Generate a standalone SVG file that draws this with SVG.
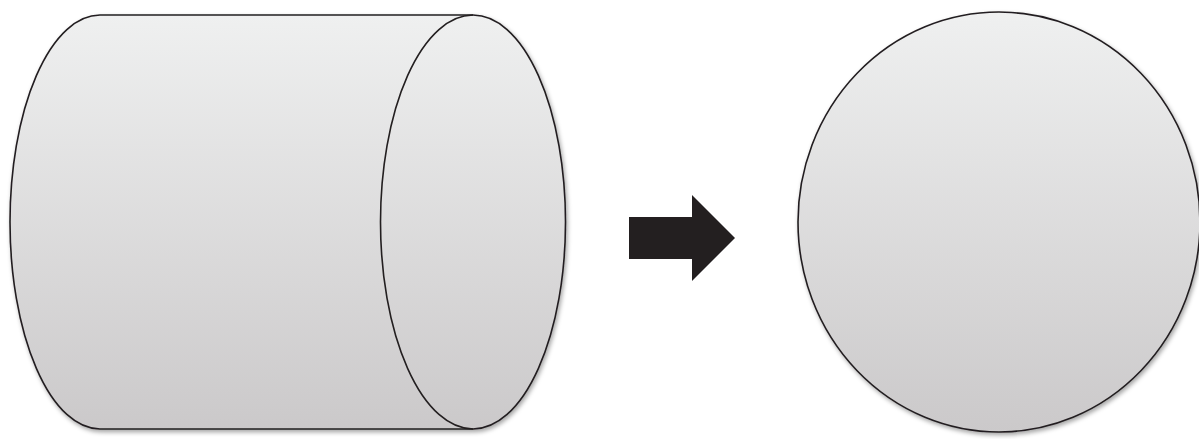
<svg xmlns="http://www.w3.org/2000/svg" width="1199" height="439" viewBox="0 0 1199 439">
<defs>
<linearGradient id="g" x1="0" y1="0" x2="0" y2="1">
<stop offset="0" stop-color="#eff0f0"/>
<stop offset="1" stop-color="#cbc9ca"/>
</linearGradient>
<filter id="sh" x="-10%" y="-10%" width="120%" height="120%">
<feDropShadow dx="1.5" dy="2.5" stdDeviation="2" flood-color="#000" flood-opacity="0.35"/>
</filter>
<style>
.shape{fill:url(#g);stroke:#231f20;stroke-width:1.6;filter:url(#sh)}
.line{fill:none;stroke:#231f20;stroke-width:1.6}
.arrow{fill:#231f20;stroke:none}
</style>
</defs>
<rect width="1199" height="439" fill="#ffffff"/>
<g id="cylinder">
<path class="shape" d="M100,15 L473,15 A92.5,207 0 0 1 473,429 L100,429 A90,207 0 0 1 100,15 Z"/>
<path class="line" d="M473,15 A92.5,207 0 0 0 473,429"/>
</g>
<g id="circle">
<ellipse class="shape" cx="999" cy="222" rx="201" ry="210"/>
</g>
<g id="connectors">
<path class="arrow" d="M629,217 L692,217 L692,195 L735,238 L692,281 L692,259 L629,259 Z"/>
</g>
</svg>
